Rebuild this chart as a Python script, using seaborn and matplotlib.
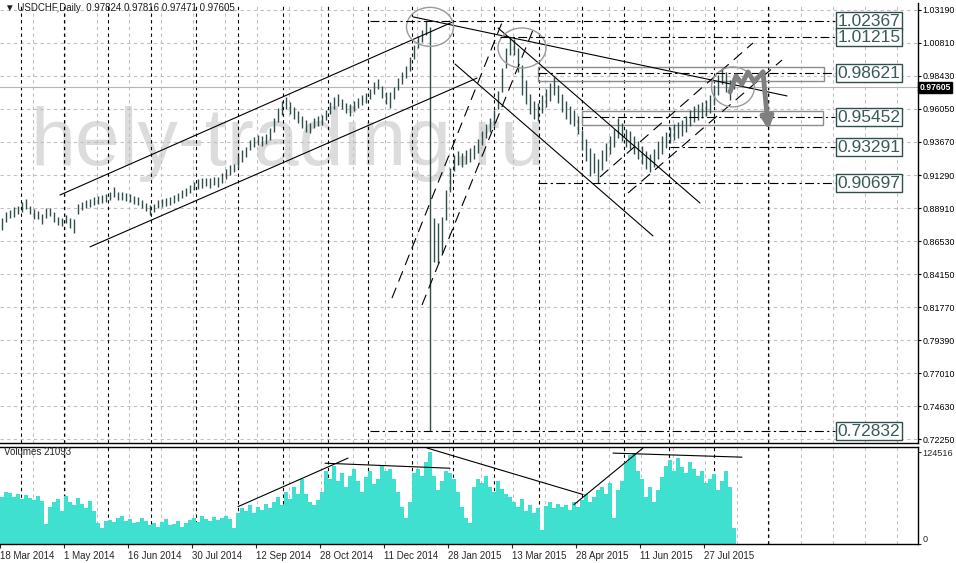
import numpy as np
import seaborn as sns
import matplotlib.pyplot as plt
from matplotlib.patches import Ellipse, Rectangle, FancyArrowPatch

# two-day bars, USDCHF daily, Mar 2014 - Aug 2015
bar_high = [0.8819, 0.8863, 0.8877, 0.8899, 0.8906, 0.8935, 0.8956, 0.8906, 0.8884, 0.8870,
            0.8848, 0.8891, 0.8891, 0.8863, 0.8827, 0.8819, 0.8841, 0.8819, 0.8812, 0.8920,
            0.8935, 0.8949, 0.8956, 0.8971, 0.8978, 0.8985, 0.8992, 0.9007, 0.9043, 0.9007,
            0.9007, 0.8999, 0.8992, 0.8978, 0.8971, 0.8949, 0.8927, 0.8913, 0.8920, 0.8949,
            0.8956, 0.8963, 0.8971, 0.8985, 0.8999, 0.9021, 0.9035, 0.9057, 0.9079, 0.9100,
            0.9107, 0.9107, 0.9107, 0.9115, 0.9115, 0.9143, 0.9172, 0.9201, 0.9208, 0.9267,
            0.9310, 0.9332, 0.9382, 0.9404, 0.9418, 0.9411, 0.9425, 0.9468, 0.9540, 0.9612,
            0.9663, 0.9692, 0.9656, 0.9620, 0.9591, 0.9555, 0.9526, 0.9504, 0.9540, 0.9555,
            0.9562, 0.9598, 0.9656, 0.9692, 0.9713, 0.9677, 0.9648, 0.9641, 0.9663, 0.9684,
            0.9706, 0.9720, 0.9749, 0.9800, 0.9821, 0.9771, 0.9728, 0.9728, 0.9764, 0.9828,
            0.9872, 0.9915, 0.9981, 1.0067, 1.0132, 1.0175, 1.0237, 1.0195, 0.8819, 0.8783,
            0.8827, 0.9021, 0.9179, 0.9274, 0.9303, 0.9288, 0.9310, 0.9324, 0.9346, 0.9389,
            0.9447, 0.9497, 0.9540, 0.9598, 0.9735, 0.9900, 1.0045, 1.0125, 1.0110, 1.0045,
            0.9922, 0.9814, 0.9713, 0.9663, 0.9648, 0.9706, 0.9749, 0.9792, 0.9836, 0.9778,
            0.9713, 0.9663, 0.9627, 0.9598, 0.9555, 0.9454, 0.9389, 0.9324, 0.9288, 0.9245,
            0.9310, 0.9360, 0.9411, 0.9461, 0.9540, 0.9504, 0.9461, 0.9447, 0.9411, 0.9375,
            0.9339, 0.9303, 0.9281, 0.9317, 0.9375, 0.9411, 0.9440, 0.9476, 0.9497, 0.9512,
            0.9526, 0.9555, 0.9598, 0.9627, 0.9641, 0.9656, 0.9670, 0.9706, 0.9778, 0.9850,
            0.9900, 0.9872, 0.9814, 0.9782]
bar_low = [0.8733, 0.8791, 0.8819, 0.8827, 0.8848, 0.8863, 0.8884, 0.8848, 0.8812, 0.8812,
           0.8776, 0.8819, 0.8834, 0.8791, 0.8769, 0.8762, 0.8783, 0.8747, 0.8711, 0.8848,
           0.8877, 0.8891, 0.8899, 0.8913, 0.8920, 0.8927, 0.8935, 0.8949, 0.8971, 0.8949,
           0.8949, 0.8942, 0.8935, 0.8920, 0.8913, 0.8891, 0.8870, 0.8841, 0.8863, 0.8891,
           0.8899, 0.8906, 0.8913, 0.8927, 0.8942, 0.8963, 0.8978, 0.8999, 0.9021, 0.9028,
           0.9035, 0.9050, 0.9035, 0.9057, 0.9043, 0.9071, 0.9100, 0.9129, 0.9151, 0.9179,
           0.9223, 0.9260, 0.9310, 0.9332, 0.9346, 0.9339, 0.9353, 0.9382, 0.9440, 0.9512,
           0.9562, 0.9605, 0.9569, 0.9533, 0.9504, 0.9468, 0.9440, 0.9432, 0.9468, 0.9483,
           0.9490, 0.9526, 0.9569, 0.9605, 0.9627, 0.9605, 0.9576, 0.9555, 0.9591, 0.9612,
           0.9634, 0.9648, 0.9677, 0.9713, 0.9749, 0.9684, 0.9641, 0.9612, 0.9677, 0.9742,
           0.9785, 0.9828, 0.9879, 0.9966, 1.0045, 1.0089, 1.0139, 0.7283, 0.8502, 0.8494,
           0.8566, 0.8805, 0.9007, 0.9158, 0.9201, 0.9187, 0.9208, 0.9223, 0.9245, 0.9288,
           0.9346, 0.9396, 0.9440, 0.9483, 0.9605, 0.9728, 0.9900, 0.9995, 0.9995, 0.9872,
           0.9706, 0.9641, 0.9569, 0.9533, 0.9519, 0.9576, 0.9620, 0.9663, 0.9706, 0.9648,
           0.9584, 0.9533, 0.9497, 0.9483, 0.9425, 0.9310, 0.9230, 0.9122, 0.9143, 0.9071,
           0.9165, 0.9230, 0.9281, 0.9332, 0.9396, 0.9375, 0.9332, 0.9317, 0.9281, 0.9245,
           0.9208, 0.9172, 0.9151, 0.9187, 0.9245, 0.9281, 0.9324, 0.9360, 0.9382, 0.9396,
           0.9411, 0.9440, 0.9483, 0.9512, 0.9526, 0.9540, 0.9555, 0.9576, 0.9634, 0.9706,
           0.9785, 0.9728, 0.9670, 0.9747]
volume = [63700, 70800, 69300, 63700, 67900, 60800, 66500, 62300, 59400, 65100, 58000, 26900,
          49500, 56600, 60800, 45300, 65100, 56600, 52400, 62300, 53800, 48100, 58000, 45300,
          28300, 21200, 31100, 32500, 29700, 35400, 38200, 31100, 34000, 28300, 29700, 35400,
          31100, 25500, 28300, 22600, 29700, 34000, 25500, 26900, 31100, 22600, 28300, 32500,
          35400, 29700, 38200, 34000, 31100, 36800, 32500, 35400, 38200, 34000, 21200,
          42500, 48100, 45300, 52400, 42500, 49500, 46700, 53800, 48100, 56600, 63700, 52400,
          70800, 60800, 77800, 67900,
          87700, 67900, 56600, 52400, 59400, 70800,
          99100, 87700, 106100, 84900, 96200, 77800, 92000, 101900, 84900, 70800, 90600, 99100,
          80700, 87700, 106100, 99100,
          101900, 87700, 70800, 49500, 35400, 56600, 96200, 101900, 92000, 110400,
          124516,
          92000, 73600, 84900, 99100, 96200, 87700, 70800, 49500, 35400, 28300,
          77800, 87700, 82100, 92000, 77800, 70800, 84900, 75000, 67900, 63700,
          56600, 49500, 60800, 45300, 52400, 42500, 48100, 18400,
          50900, 56600, 48100, 53800, 49500, 52400, 46700, 56600, 49500,
          59400, 67900, 56600, 63700, 73600, 77800, 67900, 82100, 35400, 73600, 84900,
          110400, 120300, 123100, 99100,
          87700, 63700, 77800, 56600, 73600, 90600,
          106100, 113200, 99100, 116000, 104700, 96200, 110400, 101900,
          92000, 99100, 82100, 87700, 94800, 73600, 84900, 99100, 77800, 21093]

date_labels = ["18 Mar 2014", "1 May 2014", "16 Jun 2014", "30 Jul 2014", "12 Sep 2014",
               "28 Oct 2014", "11 Dec 2014", "28 Jan 2015", "13 Mar 2015", "28 Apr 2015",
               "11 Jun 2015", "27 Jul 2015"]
price_ticks = [1.03190, 1.00810, 0.98430, 0.96050, 0.93670, 0.91290, 0.88910,
               0.86530, 0.84150, 0.81770, 0.79390, 0.77010, 0.74630, 0.72250]
month_starts = [4.75, 15.5, 26.5, 37.25, 48.5, 59, 70.25, 81.5, 91.5, 102.5, 112.75,
                123, 134.25, 145, 155.5, 166.75, 178, 191.5]

level_prices = [1.02367, 1.01215, 0.98621, 0.95452, 0.93291, 0.90697, 0.72832]
level_start = [92, 124.5, 134, 145, 167, 134, 92]
last_close = 0.97605

# trend lines: (bar, price) pairs
solid_lines = [((14.5, 0.8985), (112.75, 1.0233)),
               ((22, 0.8611), (118.75, 0.9828)),
               ((102.75, 1.0269), (196.25, 0.9699)),
               ((124, 1.0189), (174.5, 0.8927)),
               ((113.25, 0.9929), (162.75, 0.8690))]
dashed_lines = [((97.5, 0.8242), (125.25, 1.0247)),
                ((105, 0.8192), (132.75, 1.0175)),
                ((149.5, 0.9115), (187.75, 1.0081)),
                ((156.5, 0.8999), (195, 0.9958))]
vol_lines = [((59, 50600), (86.5, 116300)),
             ((80.75, 109400), (112, 102600)),
             ((106.25, 130000), (145.25, 67000)),
             ((143, 53400), (160.25, 130000)),
             ((152.75, 123100), (185, 117600))]
ellipses = [(107, 1.0197, 11.75, 0.0281), (130, 1.0045, 12, 0.0288), (182.75, 0.9764, 10.75, 0.0288)]
boxes = [(134, 0.9807, 71.5, 0.0101), (145, 0.9490, 60.25, 0.0101)]
arrow_x = [182, 183.5, 185, 186.5, 188, 190.25]
arrow_p = [0.9728, 0.9843, 0.9785, 0.9872, 0.9800, 0.9872]

sns.set_theme(style="white")
plt.rcParams['font.family'] = ['Liberation Sans', 'DejaVu Sans']

bar_idx = np.arange(len(bar_high))
ink = "#2f4f4f"
grid_kw = dict(color="#c0c0c0", lw=0.8, ls=(0, (3, 3)), zorder=1)
sep_kw = dict(color="black", lw=0.8, ls=(0, (3, 3)), zorder=1.5)

fig = plt.figure(figsize=(9.56, 5.63), dpi=100)
ax = fig.add_axes([0, 1 - 443 / 563, 918 / 956, 440 / 563])
ax_vol = fig.add_axes([0, 1 - 544 / 563, 918 / 956, 97 / 563])

# volume panel
sns.barplot(x=bar_idx, y=volume, native_scale=True, color="#40e0d0", width=1.0,
            linewidth=0, errorbar=None, ax=ax_vol, zorder=2, saturation=1)
for v in np.arange(8, 229, 8) - 0.25:
    ax.axvline(v, **grid_kw)
    ax_vol.axvline(v, **grid_kw)
for m in month_starts:
    ax.axvline(m, **sep_kw)
    ax_vol.axvline(m, **sep_kw)
for pr in price_ticks:
    ax.axhline(pr, **grid_kw)

ax.text(7, 0.9201, "hely-trading.ru", fontsize=58, color="#dcdcdc", va="baseline",
        ha="left", zorder=0.5, family="Liberation Sans")

ax.axhline(last_close, color="#b4b4b4", lw=0.8, zorder=2)
for (x0, y0, w, h) in boxes:
    ax.add_patch(Rectangle((x0, y0), w, h, fill=False, ec="#8c8c8c", lw=1, zorder=2))

ax.vlines(bar_idx, bar_low, bar_high, color=ink, lw=1.0, zorder=3)

for (a, b) in solid_lines:
    ax.plot([a[0], b[0]], [a[1], b[1]], color="black", lw=0.8, zorder=4)
for (a, b) in dashed_lines:
    ax.plot([a[0], b[0]], [a[1], b[1]], color="black", lw=0.8, ls=(0, (10, 6)), zorder=4)
for (a, b) in vol_lines:
    ax_vol.plot([a[0], b[0]], [a[1], b[1]], color="black", lw=0.8, zorder=4)
for (cx, cy, w, h) in ellipses:
    ax.add_patch(Ellipse((cx, cy), w, h, fill=False, ec="#9a9a9a", lw=1, zorder=4))

for lvl, x0 in zip(level_prices, level_start):
    ax.plot([x0, 208.3], [lvl, lvl], color="black", lw=0.8, ls=(0, (8, 3, 2, 3)), zorder=4)
    ax.text(208.9, lvl, f"{lvl:.5f}", fontsize=12.5, color="#3a5a5a", va="center", ha="left",
            zorder=6, bbox=dict(boxstyle="square,pad=0.08", fc="white", ec=ink, lw=1))

ax.plot(arrow_x, arrow_p, color="#808080", lw=3.5, solid_joinstyle="round",
        solid_capstyle="round", zorder=5)
ax.add_patch(FancyArrowPatch((190.25, 0.9872), (191.6, 0.9454), arrowstyle="-|>",
                             mutation_scale=18, color="#808080", lw=3.5,
                             shrinkA=0, shrinkB=0, zorder=5))

for a in (ax, ax_vol):
    a.set_xlim(-0.5, 229)
    a.spines["left"].set_visible(False)
    for s in ("right", "bottom", "top"):
        a.spines[s].set_color("black")
        a.spines[s].set_linewidth(1)
ax.spines["top"].set_visible(False)

ax.set_ylim(0.7197, 1.0369)
ax.yaxis.tick_right()
ax.set_yticks(price_ticks)
ax.set_yticklabels([f"{p:.5f}" for p in price_ticks])
ax.tick_params(axis="y", right=True, length=2, width=0.8, labelsize=6.4, pad=1, colors="black")
ax.set_xticks([])

ax_vol.set_ylim(0, 131357)
ax_vol.yaxis.tick_right()
ax_vol.set_yticks([0, 124516])
ax_vol.set_yticklabels(["0", "124516"])
ax_vol.get_yticklabels()[0].set_va("bottom")
ax_vol.tick_params(axis="y", right=True, length=2, width=0.8, labelsize=6.6, pad=1)
ax_vol.set_xticks(np.arange(len(date_labels)) * 16 - 0.5)
ax_vol.set_xticklabels(date_labels, ha="left")
ax_vol.tick_params(axis="x", bottom=True, length=3, width=0.8, labelsize=7, pad=2)
ax_vol.set_xlabel("")
ax_vol.set_ylabel("")
ax_vol.text(0.5, 124000, "Volumes 21093", fontsize=7, va="center", ha="left", zorder=6)

fig.text(919.5 / 956, 1 - 87.5 / 563, "0.97605", fontsize=6.2, color="white", va="center",
         ha="left", fontweight="bold",
         bbox=dict(boxstyle="square,pad=0.12", fc="black", ec="black"))
fig.text(5 / 956, 1 - 8 / 563, "\u25bc USDCHF,Daily  0.97824 0.97816 0.97471 0.97605",
         fontsize=7, color="#202020", va="center", ha="left")

fig.savefig("out.png", dpi=100)
